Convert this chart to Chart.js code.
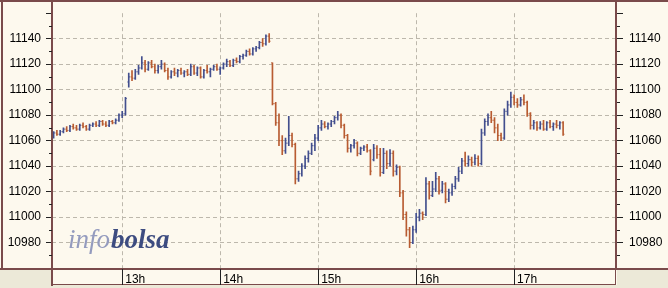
<!DOCTYPE html>
<html>
<head>
<meta charset="utf-8">
<script src="https://cdn.jsdelivr.net/npm/chart.js@4.4.0/dist/chart.umd.min.js"></script>
<style>
  html, body { margin: 0; padding: 0; background: #ece9d8; }
  #wrap { width: 668px; height: 288px; }
</style>
</head>
<body>
<div id="wrap"><canvas id="chart" width="668" height="288"></canvas></div>
<script>
// barras de 2 minutos (hora, apertura, máximo, mínimo, cierre)
const times = [
  '12:18','12:20','12:22','12:24','12:26','12:28','12:30','12:32','12:34','12:36','12:38','12:40','12:42','12:44','12:46','12:48','12:50','12:52','12:54','12:56','12:58',
  '13:00','13:02','13:04','13:06','13:08','13:10','13:12','13:14','13:16','13:18','13:20','13:22','13:24','13:26','13:28','13:30','13:32','13:34','13:36','13:38','13:40','13:42','13:44','13:46','13:48','13:50','13:52','13:54','13:56','13:58',
  '14:00','14:02','14:04','14:06','14:08','14:10','14:12','14:14','14:16','14:18','14:20','14:22','14:24','14:26','14:28','14:30','14:32','14:34','14:36','14:38','14:40','14:42','14:44','14:46','14:48','14:50','14:52','14:54','14:56','14:58',
  '15:00','15:02','15:04','15:06','15:08','15:10','15:12','15:14','15:16','15:18','15:20','15:22','15:24','15:26','15:28','15:30','15:32','15:34','15:36','15:38','15:40','15:42','15:44','15:46','15:48','15:50','15:52','15:54','15:56','15:58',
  '16:00','16:02','16:04','16:06','16:08','16:10','16:12','16:14','16:16','16:18','16:20','16:22','16:24','16:26','16:28','16:30','16:32','16:34','16:36','16:38','16:40','16:42','16:44','16:46','16:48','16:50','16:52','16:54','16:56','16:58',
  '17:00','17:02','17:04','17:06','17:08','17:10','17:12','17:14','17:16','17:18','17:20','17:22','17:24','17:26','17:28','17:30'
];
const opens = [
  11064,11066,11065,11067,11069,11068,11071,11070,11069,11072,11071,11069,11072,11073,11072,11075,11073,11072,11075,11074,11076,
  11080,11081,11106,11110,11109,11114,11117,11121,11116,11121,11118,11115,11118,11120,11115,11110,11114,11113,11115,11113,11114,11112,11118,11113,11117,11110,11115,11114,11116,11118,
  11116,11117,11120,11122,11119,11123,11122,11126,11127,11130,11128,11132,11133,11137,11136,11142,11121,11089,11074,11060,11052,11058,11064,11057,11030,11034,11040,11046,11050,11056,
  11062,11070,11073,11071,11073,11075,11078,11080,11072,11064,11054,11056,11058,11050,11054,11055,11052,11045,11054,11049,11035,11050,11042,11050,11036,11039,11019,11002,10990,10980,
  10990,11000,11003,11002,11026,11017,11022,11030,11021,11026,11014,11019,11024,11030,11036,11044,11042,11045,11043,11046,11042,11066,11075,11078,11076,11070,11064,11062,11083,11088,
  11094,11090,11088,11092,11090,11081,11072,11074,11070,11073,11069,11074,11071,11073,11072,11074
];
const highs = [
  11067,11068,11068,11070,11071,11072,11073,11072,11073,11074,11072,11073,11074,11075,11076,11076,11075,11076,11076,11077,11081,
  11083,11094,11113,11115,11116,11119,11126,11123,11122,11123,11120,11119,11123,11121,11117,11115,11117,11116,11117,11115,11116,11120,11119,11118,11118,11116,11119,11117,11119,11120,
  11118,11121,11124,11123,11124,11125,11127,11128,11131,11132,11133,11134,11138,11140,11143,11144,11121,11090,11081,11064,11062,11079,11066,11058,11036,11042,11048,11052,11058,11065,
  11072,11076,11075,11074,11076,11079,11083,11081,11073,11065,11057,11061,11059,11055,11056,11057,11053,11057,11056,11054,11054,11052,11053,11052,11041,11040,11021,11004,10992,10993,
  11003,11006,11004,11031,11028,11028,11035,11032,11028,11027,11022,11026,11032,11039,11046,11051,11048,11047,11049,11048,11069,11077,11081,11083,11078,11073,11066,11085,11091,11098,
  11096,11093,11094,11096,11091,11082,11076,11075,11075,11076,11075,11076,11074,11076,11075,11075
];
const lows = [
  11062,11064,11064,11066,11067,11067,11069,11068,11068,11070,11068,11068,11071,11071,11071,11072,11071,11071,11073,11073,11075,
  11078,11080,11102,11107,11108,11112,11116,11114,11115,11117,11113,11113,11116,11114,11108,11109,11111,11110,11112,11110,11111,11111,11112,11111,11109,11109,11113,11110,11115,11115,
  11112,11116,11118,11118,11118,11121,11121,11124,11126,11127,11127,11130,11132,11134,11135,11137,11088,11072,11056,11049,11050,11056,11055,11026,11028,11032,11038,11043,11049,11052,
  11060,11068,11070,11069,11071,11073,11076,11070,11062,11051,11051,11054,11048,11049,11052,11051,11033,11044,11046,11032,11034,11038,11040,11032,11033,11016,10998,10985,10976,10979,
  10988,10997,10998,11001,11014,11016,11020,11018,11019,11011,11012,11017,11022,11028,11034,11040,11040,11040,11041,11040,11041,11064,11072,11074,11066,11060,11060,11061,11080,11086,
  11088,11086,11087,11088,11079,11069,11069,11068,11069,11068,11068,11070,11068,11070,11069,11064
];
const closes = [
  11066,11065,11067,11069,11068,11071,11070,11069,11072,11071,11069,11072,11073,11072,11075,11073,11072,11075,11074,11076,11080,
  11081,11093,11110,11109,11114,11117,11121,11116,11121,11118,11115,11118,11120,11115,11110,11114,11113,11115,11113,11114,11112,11118,11113,11117,11110,11115,11114,11116,11118,11116,
  11117,11120,11122,11119,11123,11122,11126,11127,11130,11128,11132,11133,11137,11136,11142,11138,11089,11074,11060,11052,11058,11064,11057,11030,11034,11040,11046,11050,11056,11062,
  11070,11073,11071,11073,11075,11078,11080,11072,11064,11054,11056,11058,11050,11054,11055,11052,11036,11054,11049,11035,11050,11042,11050,11036,11039,11019,11002,10990,10980,10990,
  11000,11003,11002,11026,11017,11022,11030,11021,11026,11014,11019,11024,11030,11036,11044,11042,11045,11043,11046,11042,11066,11075,11078,11076,11070,11064,11062,11083,11088,11094,
  11090,11088,11092,11090,11081,11072,11074,11070,11073,11069,11074,11071,11073,11072,11074,11065
];

const yLabels = [10980, 11000, 11020, 11040, 11060, 11080, 11100, 11120, 11140];
const hourLabels = ['13h', '14h', '15h', '16h', '17h'];

const CREAM = '#fdf9ee';
const GREY = '#ece9d8';
const BORDER = '#7a4b4b';
const GRID = '#bdb8ac';
const UP = '#434f8e';
const DOWN = '#b85c32';

function toMinutes(t) {
  const p = t.split(':');
  return parseInt(p[0]) * 60 + parseInt(p[1]);
}

const xs = times.map(toMinutes);
const colors = opens.map((o, i) => closes[i] >= o ? UP : DOWN);

// fondo, marco, marcas menores y logotipo
const framePlugin = {
  id: 'frame',
  beforeDraw(chart) {
    const c = chart.ctx, a = chart.chartArea;
    c.save();
    c.fillStyle = GREY;
    c.fillRect(0, 0, chart.width, chart.height);
    c.fillStyle = CREAM;
    c.fillRect(0, 0, chart.width, a.bottom + 1);
    c.fillRect(a.left, a.bottom, a.right - a.left, 17);
    c.restore();
  },
  beforeDatasetsDraw(chart) {
    const c = chart.ctx;
    c.save();
    c.textBaseline = 'alphabetic';
    c.textAlign = 'left';
    c.font = 'italic 27px "Liberation Serif", serif';
    c.fillStyle = '#949bbe';
    c.fillText('info', 68, 248);
    const w = c.measureText('info').width;
    c.font = 'italic bold 27px "Liberation Serif", serif';
    c.fillStyle = '#3d4c80';
    c.fillText('bolsa', 68 + w + 1, 248);
    c.restore();
  },
  afterDraw(chart) {
    const c = chart.ctx, a = chart.chartArea;
    const W = chart.width;
    const left = Math.round(a.left), right = Math.round(a.right), bottom = Math.round(a.bottom);
    c.save();
    c.fillStyle = BORDER;
    c.fillRect(0, 0, W, 2);
    c.fillRect(1, 0, 2, bottom + 1);
    c.fillRect(0, bottom, W, 2);
    c.fillRect(left - 1, 0, 2, bottom + 18);
    c.fillRect(right - 2, 0, 2, bottom + 2);
    c.fillRect(left, bottom + 16, right - 1 - left, 1);
    c.fillRect(right - 2, bottom, 1, 17);

    // separadores de horas en la banda inferior
    c.fillStyle = '#222';
    chart.scales.x.ticks.forEach(t => {
      const px = Math.round(chart.scales.x.getPixelForValue(t.value));
      c.fillRect(px, bottom + 1, 1, 16);
    });

    // marcas menores cada 10 puntos
    const y = chart.scales.y;
    c.strokeStyle = '#222';
    c.lineWidth = 1;
    c.beginPath();
    for (let v = 10970; v < 11160; v += 20) {
      const py = Math.round(y.getPixelForValue(v)) + 0.5;
      c.moveTo(left - 3, py); c.lineTo(left, py);
      c.moveTo(right, py); c.lineTo(right + 3, py);
    }
    c.stroke();
    c.restore();
  }
};

Chart.defaults.font.family = '"Liberation Sans", Arial, sans-serif';
Chart.defaults.font.size = 12;
Chart.defaults.color = '#000';

const yTicks = {
  stepSize: 10,
  callback: v => yLabels.includes(v) ? String(v) : ''
};

const ctx = document.getElementById('chart').getContext('2d');
new Chart(ctx, {
  type: 'bar',
  data: {
    datasets: [
      {
        type: 'bar',
        data: xs.map((x, i) => ({ x: x, y: [lows[i], highs[i]] })),
        backgroundColor: colors,
        borderWidth: 0,
        barThickness: 1,
        order: 2
      },
      {
        type: 'line',
        data: xs.map((x, i) => ({ x: x, y: opens[i] })),
        showLine: false,
        pointStyle: 'dash',
        pointRotation: 180,
        pointRadius: 1.4,
        pointBorderWidth: 0.9,
        pointBorderColor: colors,
        pointBackgroundColor: colors,
        order: 1
      },
      {
        type: 'line',
        data: xs.map((x, i) => ({ x: x, y: closes[i] })),
        showLine: false,
        pointStyle: 'dash',
        pointRotation: 0,
        pointRadius: 1.4,
        pointBorderWidth: 0.9,
        pointBorderColor: colors,
        pointBackgroundColor: colors,
        order: 1
      }
    ]
  },
  options: {
    responsive: false,
    animation: false,
    events: [],
    layout: { padding: { top: 2, left: 0, right: 0, bottom: 0 } },
    plugins: {
      legend: { display: false },
      tooltip: { enabled: false }
    },
    scales: {
      x: {
        type: 'linear',
        min: 737,
        max: 1083,
        offset: false,
        grid: { offset: false, color: GRID, drawTicks: false },
        border: { display: false, dash: [4, 3] },
        afterBuildTicks: s => { s.ticks = hourLabels.map(h => ({ value: parseInt(h) * 60 })); },
        afterFit: s => { s.height = 20; },
        ticks: {
          align: 'start',
          labelOffset: 3,
          padding: 4,
          maxRotation: 0,
          autoSkip: false,
          callback: v => hourLabels[(v / 60) - 13]
        }
      },
      y: {
        position: 'left',
        min: 10960,
        max: 11160,
        grid: {
          color: c => (c.tick && c.tick.value % 20 === 0 && c.tick.value > 10960 && c.tick.value < 11160) ? GRID : 'transparent',
          tickColor: c => (c.tick && c.tick.value % 20 === 0) ? '#222' : 'transparent',
          tickLength: 6
        },
        border: { display: false, dash: [4, 3] },
        afterFit: s => { s.width = 52; },
        ticks: Object.assign({ padding: 5 }, yTicks)
      },
      y2: {
        position: 'right',
        min: 10960,
        max: 11160,
        grid: {
          drawOnChartArea: false,
          tickColor: c => (c.tick && c.tick.value % 20 === 0) ? '#222' : 'transparent',
          tickLength: 6
        },
        border: { display: false },
        afterFit: s => { s.width = 51; },
        ticks: Object.assign({ padding: 6 }, yTicks)
      }
    }
  },
  plugins: [framePlugin]
});
</script>
</body>
</html>
